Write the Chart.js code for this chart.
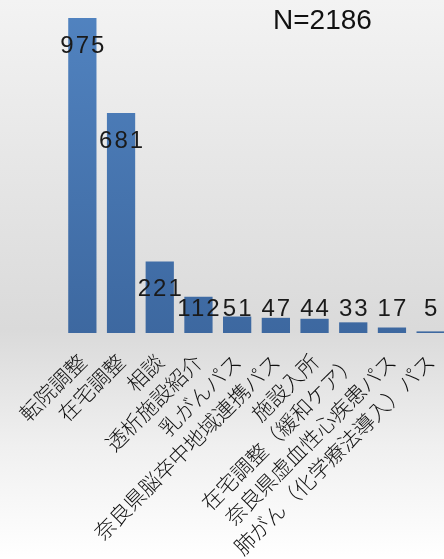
<!DOCTYPE html>
<html><head><meta charset="utf-8">
<script src="https://cdn.jsdelivr.net/npm/chart.js@4.4.0/dist/chart.umd.min.js"></script>
<style>
html,body{margin:0;padding:0;overflow:hidden;width:444px;height:559px;}
#wrap{position:relative;width:444px;height:559px;overflow:hidden;
background:linear-gradient(to bottom,#f3f3f3 0%,#e6e6e6 30%,#dadada 59%,#f0f0f0 80%,#ffffff 100%);}
#c{position:absolute;left:0;top:0;}
#n{position:absolute;left:273px;top:4px;font-family:"Liberation Sans",Arial,sans-serif;font-size:28px;color:#111;}
</style></head>
<body><div id="wrap"><canvas id="c" width="450" height="559"></canvas><div id="n">N=2186</div></div>
<script>
const categories = ["転院調整","在宅調整","相談","透析施設紹介","乳がんパス","奈良県脳卒中地域連携パス","施設入所","在宅調整（緩和ケア）","奈良県虚血性心疾患パス","肺がん（化学療法導入）パス"];
const counts = [975,681,221,112,51,47,44,33,17,5];

const labelPlugin = {
  id:'vals',
  afterDatasetsDraw(chart){
    const ctx = chart.ctx;
    const meta = chart.getDatasetMeta(0);
    ctx.save();
    ctx.font = '24px "Liberation Sans", Arial, sans-serif';
    try{ ctx.letterSpacing = '2px'; }catch(e){}
    ctx.fillStyle = '#1a1a1a';
    ctx.textAlign = 'center';
    ctx.textBaseline = 'middle';
    const floorY = chart.chartArea.bottom - 24;
    meta.data.forEach((bar,i)=>{
      const y = Math.min(bar.y + 28, floorY);
      ctx.fillText(String(counts[i]), bar.x + 1, y);
    });
    ctx.restore();
  }
};

new Chart(document.getElementById('c'), {
  type:'bar',
  data:{labels:categories, datasets:[{data:counts,
    backgroundColor:(c)=>{
      const a = c.chart.chartArea; if(!a) return '#4a7ab5';
      const g = c.chart.ctx.createLinearGradient(0,a.top,0,a.bottom);
      g.addColorStop(0,'#5183c0'); g.addColorStop(1,'#3d68a0'); return g;
    },
    barPercentage:0.73, categoryPercentage:1.0, borderWidth:0}]},
  options:{
    responsive:false, animation:false, devicePixelRatio:1,
    layout:{padding:{left:63,right:0,top:10,bottom:0}},
    plugins:{legend:{display:false},tooltip:{enabled:false}},
    scales:{
      y:{display:false,min:0,max:1000},
      x:{grid:{display:false},border:{display:false},
        ticks:{minRotation:45,maxRotation:45,autoSkip:false,padding:8,color:'#111',
          font:{family:'"Noto Sans CJK JP","Noto Sans",sans-serif',size:21,weight:'300'}},
        afterFit(s){ s.height = 226; s.paddingLeft = 0; s.paddingRight = 0; }
      }
    }
  },
  plugins:[labelPlugin]
});
</script></body></html>
